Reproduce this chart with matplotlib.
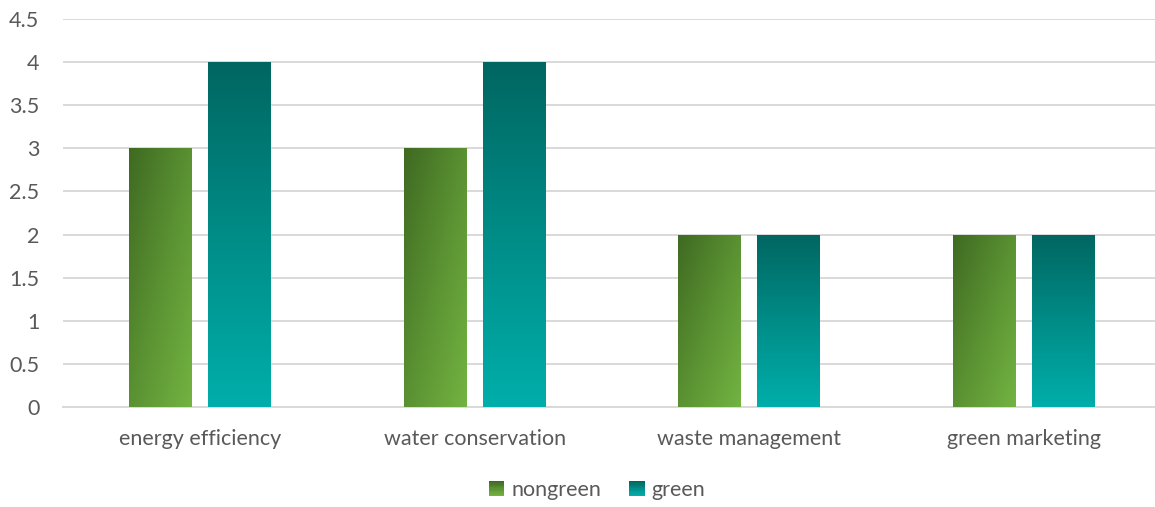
import matplotlib.pyplot as plt
import numpy as np
from matplotlib.colors import LinearSegmentedColormap
from matplotlib.patches import Patch, Rectangle
from matplotlib.legend_handler import HandlerBase

plt.rcParams['font.family'] = ['Lato', 'DejaVu Sans']

categories = ['energy efficiency', 'water conservation', 'waste management', 'green marketing']
nongreen = [3, 3, 2, 2]
green = [4, 4, 2, 2]
yticks = [0, 0.5, 1, 1.5, 2, 2.5, 3, 3.5, 4, 4.5]

W, H = 1155, 507
fig = plt.figure(figsize=(W / 100, H / 100), dpi=100)
ax = fig.add_axes([63 / W, (H - 407) / H, (1161 - 63) / W, (407 - 19) / H])

cmap_ng = LinearSegmentedColormap.from_list('ng', ['#3f6a22', '#5a9132', '#72b341'])
cmap_g = LinearSegmentedColormap.from_list('g', ['#006661', '#008c87', '#00aeaa'])

x = np.arange(len(categories))
bw = 0.2295
off = 0.144

# diagonal gradient (normalised to the bar) for nongreen, vertical for green
gx, gy = np.meshgrid(np.linspace(0, 1, 60), np.linspace(0, 1, 200))
diag = (gx + gy) / 2
vert = np.linspace(0, 1, 200)[:, None] * np.ones((1, 2))

ng_bars = ax.bar(x - off, nongreen, bw, color='none', zorder=3)
g_bars = ax.bar(x + off, green, bw, color='none', zorder=3)

for bars, cmap, grad in [(ng_bars, cmap_ng, diag), (g_bars, cmap_g, vert)]:
    for b in bars:
        x0, y0 = b.get_x(), b.get_y()
        x1, y1 = x0 + b.get_width(), y0 + b.get_height()
        im = ax.imshow(grad, cmap=cmap, extent=(x0, x1, y0, y1), aspect='auto',
                       origin='upper', zorder=3, interpolation='bilinear')
        im.set_clip_path(b)

ax.set_xlim(-0.5, 3.5)
ax.set_ylim(0, 4.5)
ax.set_yticks(yticks)
ax.set_yticklabels([f'{t:g}' for t in yticks])
ax.set_xticks(x)
ax.set_xticklabels(categories)

ax.grid(axis='y', color='#d9d9d9', linewidth=1.4, zorder=0)
ax.set_axisbelow(True)
for s in ['top', 'right', 'left']:
    ax.spines[s].set_visible(False)
ax.spines['bottom'].set_color('#d9d9d9')
ax.spines['bottom'].set_linewidth(1.4)
ax.tick_params(axis='both', length=0, labelsize=15.5, colors='#595959')
ax.tick_params(axis='y', pad=17)
ax.tick_params(axis='x', pad=16)


class GradHandler(HandlerBase):
    def __init__(self, cmap):
        super().__init__()
        self.cmap = cmap

    def create_artists(self, legend, orig_handle, xdescent, ydescent, width, height, fontsize, trans):
        n = 12
        side = min(width, height)
        arts = []
        for i in range(n):
            r = Rectangle((-xdescent, -ydescent + side * (n - 1 - i) / n), side, side / n,
                          facecolor=self.cmap(i / (n - 1)), edgecolor='none', transform=trans)
            arts.append(r)
        return arts


h_ng = Patch(facecolor='#5a9132', label='nongreen')
h_g = Patch(facecolor='#008c87', label='green')
fig.legend(handles=[h_ng, h_g], loc='center', bbox_to_anchor=(597 / W, 1 - 490 / H),
           ncol=2, frameon=False, fontsize=15.5, labelcolor='#595959',
           handlelength=0.75, handleheight=0.75, handletextpad=0.3, columnspacing=1.3,
           handler_map={h_ng: GradHandler(cmap_ng), h_g: GradHandler(cmap_g)})

fig.savefig('out.png', dpi=100)
